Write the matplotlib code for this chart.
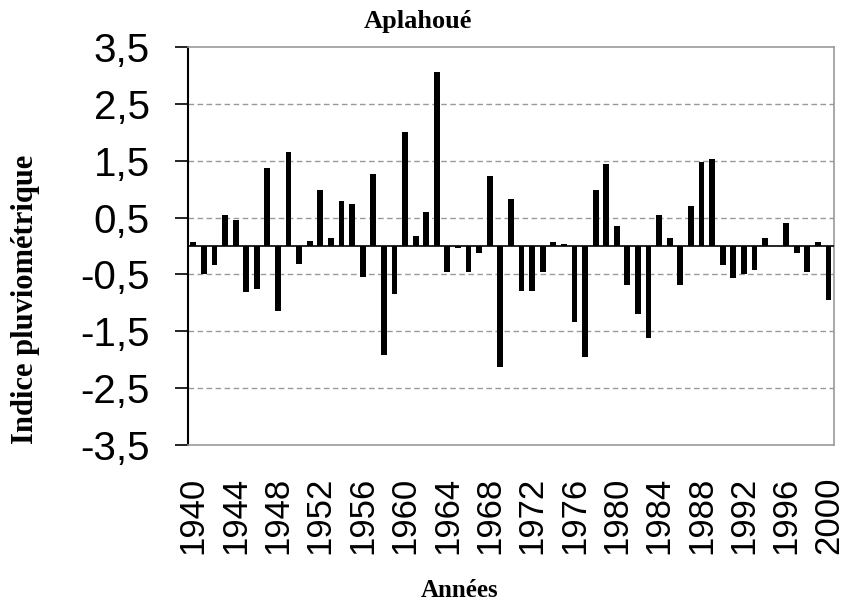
import matplotlib
matplotlib.use("Agg")
import matplotlib.pyplot as plt
import numpy as np

years = list(range(1940, 2001))
values = [
    0.07, -0.50, -0.34, 0.54, 0.46, -0.81, -0.75, 1.37, -1.15, 1.65,
    -0.31, 0.09, 0.98, 0.15, 0.79, 0.74, -0.54, 1.26, -1.91, -0.84,
    2.00, 0.18, 0.60, 3.06, -0.45, -0.04, -0.45, -0.12, 1.24, -2.12,
    0.82, -0.79, -0.79, -0.45, 0.08, 0.04, -1.34, -1.95, 0.98, 1.45,
    0.35, -0.68, -1.19, -1.62, 0.54, 0.15, -0.68, 0.71, 1.48, 1.54,
    -0.34, -0.56, -0.49, -0.42, 0.15, 0.00, 0.40, -0.12, -0.45, 0.08,
    -0.95,
]
yticks = [-3.5, -2.5, -1.5, -0.5, 0.5, 1.5, 2.5, 3.5]
ytick_labels = ["-3,5", "-2,5", "-1,5", "-0,5", "0,5", "1,5", "2,5", "3,5"]
xtick_years = list(range(1940, 2001, 4))

title = "Aplahoué"
ylabel = "Indice pluviométrique"
xlabel = "Années"

fig = plt.figure(figsize=(8.44, 6.04), dpi=100)
ax = fig.add_axes([0.2227, 0.2632, 0.7653, 0.6588])

x = np.arange(len(years))
ax.bar(x, values, width=0.55, color="black", zorder=3)
ax.axhline(0, color="black", lw=1.2, zorder=4)

ax.set_xlim(-0.5, len(years) - 0.5)
ax.set_ylim(-3.5, 3.5)

ax.set_yticks(yticks)
ax.set_yticklabels(ytick_labels, fontsize=29, family="Liberation Sans")
for yv in yticks[1:-1]:
    ax.axhline(yv, color="#999999", lw=1, ls=(0, (4, 2.5)), zorder=1)

ax.set_xticks([years.index(y) for y in xtick_years])
ax.set_xticklabels([str(y) for y in xtick_years], rotation=90, fontsize=25,
                   family="Liberation Sans")
ax.tick_params(axis="x", length=0, pad=23)
ax.tick_params(axis="y", direction="out", length=9.5, width=1.2, color="black", pad=18)

ax.spines["left"].set_color("black")
ax.spines["left"].set_linewidth(1.5)
for s in ["top", "right", "bottom"]:
    ax.spines[s].set_color("#999999")
    ax.spines[s].set_linewidth(1.2)

fig.text(0.495, 0.965, title, ha="center", va="center", fontsize=19,
         fontweight="bold", family="Liberation Serif")
fig.text(0.03, 0.505, ylabel, ha="center", va="center", rotation=90,
         fontsize=22, fontweight="bold", family="Liberation Serif")
fig.text(0.545, 0.022, xlabel, ha="center", va="center", fontsize=18,
         fontweight="bold", family="Liberation Serif")

fig.savefig("out.png", dpi=100)
